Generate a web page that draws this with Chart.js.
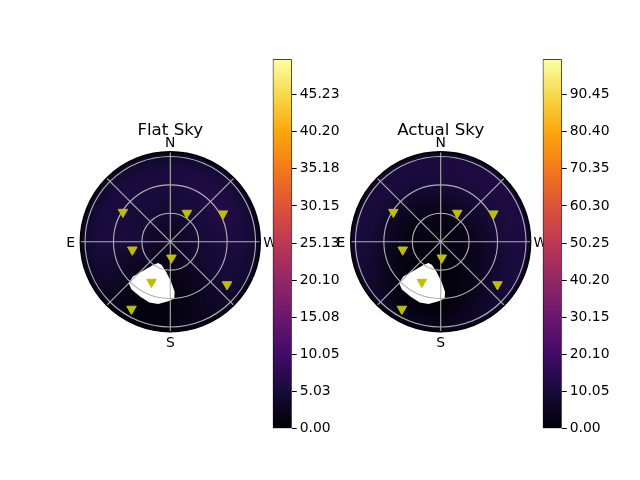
<!DOCTYPE html>
<html>
<head>
<meta charset="utf-8">
<title>Flat Sky / Actual Sky</title>
<script src="https://cdn.jsdelivr.net/npm/chart.js@4.4.1/dist/chart.umd.min.js"></script>
<style>
  html, body { margin: 0; padding: 0; background: #fff; overflow: hidden; }
  #wrap { position: relative; width: 640px; height: 480px; }
  canvas { position: absolute; }
</style>
</head>
<body>
<div id="wrap">
  <canvas id="flatSky" width="260" height="260" style="left:40px;top:100px"></canvas>
  <canvas id="flatBar" width="90" height="400" style="left:262px;top:48px"></canvas>
  <canvas id="actualSky" width="260" height="260" style="left:310px;top:100px"></canvas>
  <canvas id="actualBar" width="90" height="400" style="left:532px;top:48px"></canvas>
</div>
<script>
// sky brightness grid: rows = zenith angle, columns = azimuth
const azGrid = [0, 30, 60, 90, 120, 150, 180, 210, 240, 270, 300, 330];
const zenGrid = [0, 15, 30, 45, 60, 75, 90, 95];

const flatSkyValues = [
    [3.0, 3.0, 3.0, 3.0, 3.0, 3.0, 3.0, 3.0, 3.0, 3.0, 3.0, 3.0],
    [3.5, 3.5, 3.5, 3.5, 3.0, 2.5, 2.5, 3.0, 3.5, 3.5, 3.5, 3.5],
    [4.5, 4.5, 4.5, 5.0, 3.5, 1.5, 2.0, 3.0, 4.0, 4.5, 5.0, 4.5],
    [5.0, 5.0, 5.0, 5.5, 3.0, 1.0, 1.0, 2.5, 4.5, 5.0, 5.5, 5.0],
    [5.5, 5.5, 5.5, 5.5, 3.5, 0.5, 0.5, 2.5, 5.0, 5.5, 6.5, 6.0],
    [5.5, 5.5, 5.5, 5.5, 4.0, 1.0, 1.0, 3.0, 5.0, 5.5, 6.0, 6.0],
    [4.0, 4.0, 4.0, 4.0, 3.0, 1.0, 1.0, 2.5, 4.0, 4.0, 4.5, 4.5],
    [1.5, 1.5, 1.5, 1.5, 1.5, 1.5, 1.5, 1.5, 1.5, 1.5, 1.5, 1.5]
];

const actualSkyValues = [
    [2.0, 2.0, 2.0, 2.0, 2.0, 2.0, 2.0, 2.0, 2.0, 2.0, 2.0, 2.0],
    [2.5, 2.5, 2.5, 2.5, 2.0, 1.5, 1.5, 2.0, 2.5, 2.5, 2.5, 2.5],
    [4.0, 3.5, 3.0, 3.0, 2.0, 1.0, 1.0, 2.0, 3.5, 4.0, 4.5, 4.5],
    [7.0, 5.5, 4.5, 4.5, 2.5, 0.5, 0.5, 2.5, 5.0, 6.5, 7.5, 7.5],
    [10.0, 9.0, 7.5, 7.0, 4.0, 0.5, 0.5, 3.5, 7.5, 9.5, 10.5, 10.5],
    [11.5, 11.0, 10.5, 10.0, 7.0, 2.0, 2.0, 6.0, 10.0, 11.5, 12.0, 12.0],
    [11.0, 11.0, 11.0, 11.0, 9.0, 5.0, 5.0, 8.0, 11.0, 11.0, 11.5, 11.5],
    [3.0, 3.0, 3.0, 3.0, 3.0, 3.0, 3.0, 3.0, 3.0, 3.0, 3.0, 3.0]
];

// stars (azimuth / zenith, degrees)
const starAz = [58, 330, 298, 102, 184, 155, 233, 150];
const starZen = [59, 35, 63, 41, 17, 47, 75, 82];

// masked (no data) patch outline
const holeAz = [150, 159, 172, 181, 185, 184, 178, 169, 161, 151, 141, 135, 133, 137, 143];
const holeZen = [26, 26, 32, 42, 53, 60, 63, 67, 68, 66, 65, 62, 54, 42, 31];

const ringZen = [30, 60, 90];
const spokeAz = [0, 45, 90, 135, 180, 225, 270, 315];
const dirLabels = ['N', 'E', 'S', 'W'];
const dirAz = [0, 90, 180, 270];
const zenMax = 95;

const flatMax = 50;
const actualMax = 100;
const flatTickLabels = ['0.00', '5.03', '10.05', '15.08', '20.10', '25.13', '30.15', '35.18', '40.20', '45.23'];
const actualTickLabels = ['0.00', '10.05', '20.10', '30.15', '40.20', '50.25', '60.30', '70.35', '80.40', '90.45'];

const infernoStops = ['#000004', '#160b39', '#420a68', '#6a176e', '#932667', '#bc3754',
                      '#dd513a', '#f37819', '#fca50a', '#f6d746', '#fcffa4'];
const infernoRgb = infernoStops.map(h => [1, 3, 5].map(i => parseInt(h.substr(i, 2), 16)));

function inferno(t) {
    t = Math.min(1, Math.max(0, t)) * (infernoRgb.length - 1);
    const i = Math.min(infernoRgb.length - 2, Math.floor(t));
    const f = t - i;
    return infernoRgb[i].map((c, k) => c + (infernoRgb[i + 1][k] - c) * f);
}

function skyValue(values, az, zen) {
    let i = 0;
    while (i < zenGrid.length - 2 && zen > zenGrid[i + 1]) i++;
    const t = Math.min(1, Math.max(0, (zen - zenGrid[i]) / (zenGrid[i + 1] - zenGrid[i])));
    const n = azGrid.length;
    const a = (((az % 360) + 360) % 360) / (360 / n);
    const j = Math.floor(a) % n, j2 = (j + 1) % n, u = a - Math.floor(a);
    const v0 = values[i][j] * (1 - u) + values[i][j2] * u;
    const v1 = values[i + 1][j] * (1 - u) + values[i + 1][j2] * u;
    return v0 * (1 - t) + v1 * t;
}

const rad = d => d * Math.PI / 180;
// N up, E left
const toX = (az, zen) => -zen * Math.sin(rad(az));
const toY = (az, zen) => zen * Math.cos(rad(az));

const FONT = '"DejaVu Sans", "Liberation Sans", sans-serif';

const skyPlugin = {
    id: 'skyMap',
    beforeDatasetsDraw(chart, args, opts) {
        const {ctx, chartArea: a, scales: {x, y}} = chart;
        const cx = x.getPixelForValue(0), cy = y.getPixelForValue(0);
        const R = x.getPixelForValue(zenMax) - cx;

        // heatmap
        const x0 = Math.floor(a.left), y0 = Math.floor(a.top);
        const w = Math.ceil(a.right) - x0, h = Math.ceil(a.bottom) - y0;
        const off = document.createElement('canvas');
        off.width = w; off.height = h;
        const octx = off.getContext('2d');
        const img = octx.createImageData(w, h);
        for (let py = 0; py < h; py++) {
            for (let px = 0; px < w; px++) {
                const dx = x.getValueForPixel(x0 + px + 0.5);
                const dy = y.getValueForPixel(y0 + py + 0.5);
                const zen = Math.hypot(dx, dy);
                if (zen > zenMax + 0.5) continue;
                const az = Math.atan2(-dx, dy) * 180 / Math.PI;
                const c = inferno(skyValue(opts.values, az, zen) / opts.vmax);
                const k = (py * w + px) * 4;
                img.data[k] = c[0]; img.data[k + 1] = c[1]; img.data[k + 2] = c[2];
                img.data[k + 3] = zen > zenMax - 0.5 ? 255 * (zenMax + 0.5 - zen) : 255;
            }
        }
        octx.putImageData(img, 0, 0);
        ctx.save();
        ctx.drawImage(off, x0, y0);

        // masked patch
        ctx.fillStyle = '#ffffff';
        ctx.beginPath();
        holeAz.forEach((az, i) => {
            const px = x.getPixelForValue(toX(az, holeZen[i]));
            const py = y.getPixelForValue(toY(az, holeZen[i]));
            i ? ctx.lineTo(px, py) : ctx.moveTo(px, py);
        });
        ctx.closePath();
        ctx.fill();

        // grid
        ctx.strokeStyle = '#b0b0b0';
        ctx.lineWidth = 1.1;
        ringZen.forEach(r => {
            ctx.beginPath();
            ctx.arc(cx, cy, x.getPixelForValue(r) - cx, 0, Math.PI * 2);
            ctx.stroke();
        });
        spokeAz.forEach(az => {
            ctx.beginPath();
            ctx.moveTo(cx, cy);
            ctx.lineTo(x.getPixelForValue(toX(az, zenMax)), y.getPixelForValue(toY(az, zenMax)));
            ctx.stroke();
        });

        // spine
        ctx.strokeStyle = '#000000';
        ctx.lineWidth = 1.4;
        ctx.beginPath();
        ctx.arc(cx, cy, R, 0, Math.PI * 2);
        ctx.stroke();
        ctx.restore();
    },
    afterDraw(chart, args, opts) {
        const {ctx, scales: {x, y}} = chart;
        const cx = x.getPixelForValue(0), cy = y.getPixelForValue(0);
        const R = x.getPixelForValue(zenMax) - cx;
        ctx.save();
        ctx.fillStyle = '#000';
        ctx.textAlign = 'center';
        ctx.textBaseline = 'alphabetic';
        ctx.font = '13.9px ' + FONT;
        dirLabels.forEach((lab, i) => {
            const d = R + 9.7;
            const px = cx - d * Math.sin(rad(dirAz[i]));
            const py = cy - d * Math.cos(rad(dirAz[i]));
            ctx.fillText(lab, px, py + 5.1);
        });
        ctx.font = '16.7px ' + FONT;
        ctx.fillText(opts.title, cx, cy - R - 16.4);
        ctx.restore();
    }
};

function makeSky(id, title, values, vmax, padding) {
    new Chart(document.getElementById(id), {
        type: 'scatter',
        data: {
            datasets: [{
                data: starAz.map((az, i) => ({x: toX(az, starZen[i]), y: toY(az, starZen[i])})),
                pointStyle: 'triangle',
                rotation: 180,
                radius: 5.5,
                backgroundColor: '#bfbf00',
                borderColor: '#bfbf00',
                borderWidth: 1
            }]
        },
        options: {
            responsive: false,
            animation: false,
            devicePixelRatio: 1,
            layout: {padding: padding},
            scales: {
                x: {type: 'linear', min: -zenMax, max: zenMax, display: false},
                y: {type: 'linear', min: -zenMax, max: zenMax, display: false}
            },
            plugins: {
                legend: {display: false},
                tooltip: {enabled: false},
                skyMap: {title: title, values: values, vmax: vmax}
            }
        },
        plugins: [skyPlugin]
    });
}

function makeColorbar(id, vmax, tickLabels) {
    new Chart(document.getElementById(id), {
        type: 'bar',
        data: {
            labels: [''],
            datasets: [{
                data: [vmax],
                barPercentage: 1,
                categoryPercentage: 1,
                borderWidth: 1,
                borderColor: '#000',
                borderSkipped: false,
                backgroundColor: context => {
                    const {chart} = context;
                    if (!chart.chartArea) return 'transparent';
                    const ys = chart.scales.y;
                    const g = chart.ctx.createLinearGradient(0, ys.getPixelForValue(0), 0, ys.getPixelForValue(vmax));
                    infernoStops.forEach((c, i) => g.addColorStop(i / (infernoStops.length - 1), c));
                    return g;
                }
            }]
        },
        options: {
            responsive: false,
            animation: false,
            devicePixelRatio: 1,
            layout: {padding: {left: 10.7, right: 0.3, top: 10.3, bottom: 19.3}},
            scales: {
                x: {display: false},
                y: {
                    position: 'right',
                    min: 0,
                    max: vmax,
                    afterBuildTicks: scale => {
                        scale.ticks = tickLabels.map(s => ({value: parseFloat(s)}));
                    },
                    afterFit: scale => { scale.width = 60; },
                    border: {display: false},
                    grid: {display: true, drawOnChartArea: false, drawTicks: true, tickLength: 5, color: '#000', lineWidth: 1},
                    ticks: {
                        autoSkip: false,
                        padding: 3,
                        color: '#000',
                        font: {family: FONT, size: 13.9},
                        callback: (value, index) => tickLabels[index]
                    }
                }
            },
            plugins: {
                legend: {display: false},
                tooltip: {enabled: false}
            }
        }
    });
}

makeSky('flatSky', 'Flat Sky', flatSkyValues, flatMax, {left: 40.3, top: 51.7, right: 39.7, bottom: 28.3});
makeColorbar('flatBar', flatMax, flatTickLabels);
makeSky('actualSky', 'Actual Sky', actualSkyValues, actualMax, {left: 40.7, top: 51.7, right: 39.3, bottom: 28.3});
makeColorbar('actualBar', actualMax, actualTickLabels);
</script>
</body>
</html>
